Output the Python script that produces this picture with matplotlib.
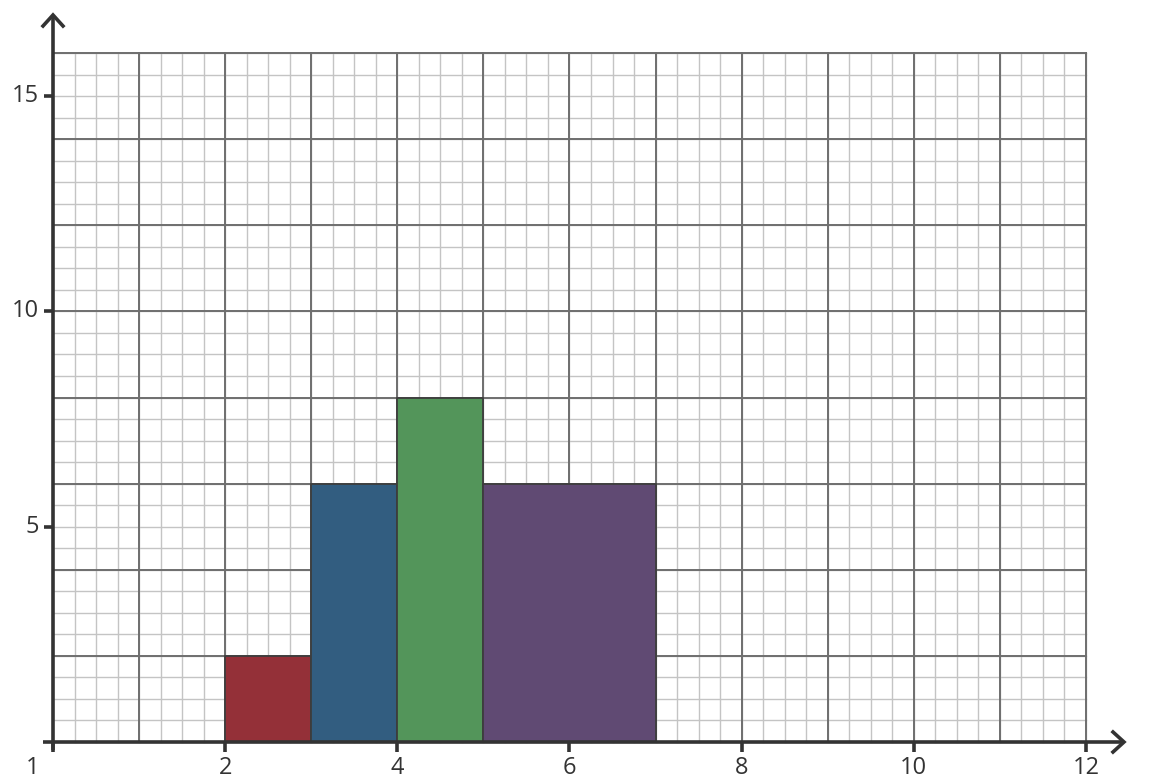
import matplotlib
matplotlib.use("Agg")
import matplotlib.pyplot as plt
import numpy as np

plt.rcParams['font.family'] = ['Open Sans', 'DejaVu Sans']

# Data
bin_edges = [2, 3, 4, 5, 7]
heights = [2, 6, 8, 6]
bar_colors = ['#943038', '#325d80', '#53955a', '#604a73']
x_tick_pos = [0, 2, 4, 6, 8, 10, 12]
x_tick_labels = ['1', '2', '4', '6', '8', '10', '12']
y_tick_pos = [5, 10, 15]
y_tick_labels = ['5', '10', '15']

X_MAX, Y_MAX = 12, 16

fig = plt.figure(figsize=(11.58, 7.84), dpi=100)
ax = fig.add_axes([0, 0, 1, 1])
# pixel mapping: x=0 at 53px, 86.08 px/unit ; y=0 at 742px from top, 43.06 px/unit
pxx = 86.08
pxy = 43.06
ax.set_xlim(-53 / pxx, (1158 - 53) / pxx)
ax.set_ylim(-(784 - 742) / pxy, 742 / pxy)
ax.axis('off')

# minor grid
for xv in np.arange(0, X_MAX + 0.001, 0.25):
    ax.plot([xv, xv], [0, Y_MAX], color='#c4c4c4', lw=1.0, zorder=1)
for yv in np.arange(0, Y_MAX + 0.001, 0.5):
    ax.plot([0, X_MAX], [yv, yv], color='#c4c4c4', lw=1.0, zorder=1)
# major grid
for xv in np.arange(0, X_MAX + 0.001, 1):
    ax.plot([xv, xv], [0, Y_MAX], color='#6e6e6e', lw=1.4, zorder=2)
for yv in np.arange(0, Y_MAX + 0.001, 2):
    ax.plot([0, X_MAX], [yv, yv], color='#6e6e6e', lw=1.4, zorder=2)

# bars
lefts = bin_edges[:-1]
widths = np.diff(bin_edges)
ax.bar(lefts, heights, width=widths, align='edge', color=bar_colors,
       edgecolor='#3d3d3d', linewidth=1.3, zorder=3)

axc = '#333333'
# axes lines
ax.plot([-10 / pxx, 1123 / pxx - 53 / pxx], [0, 0], color=axc, lw=2.6, zorder=5,
        solid_capstyle='butt')
ax.plot([0, 0], [-8 / pxy, (742 - 15) / pxy], color=axc, lw=2.6, zorder=5,
        solid_capstyle='butt')
# arrow heads
xt = (1124 - 53) / pxx
ax.plot([xt - 11 / pxx, xt, xt - 11 / pxx], [10 / pxy, 0, -10 / pxy], color=axc,
        lw=2.6, zorder=5, solid_joinstyle='miter')
yt = (742 - 15) / pxy
ax.plot([-10 / pxx, 0, 10 / pxx], [yt - 11 / pxy, yt, yt - 11 / pxy], color=axc,
        lw=2.6, zorder=5, solid_joinstyle='miter')

# x ticks
for p, lab in zip(x_tick_pos, x_tick_labels):
    ax.plot([p, p], [0, -10 / pxy], color=axc, lw=2.6, zorder=5, solid_capstyle='butt')
    dx = -20 / pxx if p == 0 else 0
    ax.text(p + dx, -26 / pxy, lab, ha='center', va='center', fontsize=17, color='#333333')
# y ticks
for p, lab in zip(y_tick_pos, y_tick_labels):
    ax.plot([-9 / pxx, 0], [p, p], color=axc, lw=2.6, zorder=5, solid_capstyle='butt')
    ax.text(-14 / pxx, p, lab, ha='right', va='center', fontsize=17, color='#333333')

fig.savefig('out.png', dpi=100)
